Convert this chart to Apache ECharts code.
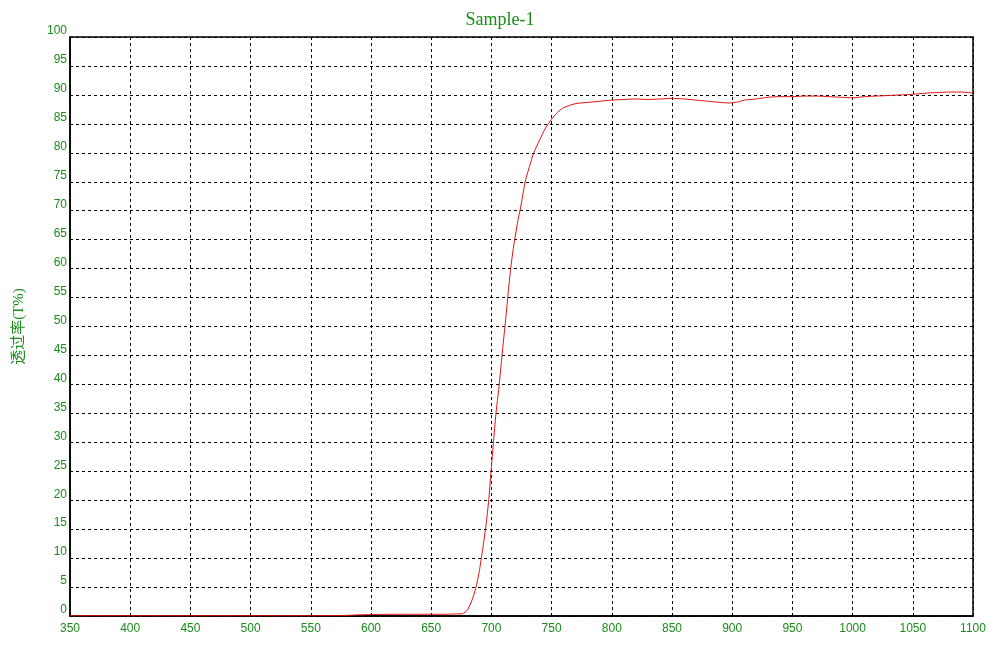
<!DOCTYPE html>
<html>
<head>
<meta charset="utf-8">
<script src="https://cdn.jsdelivr.net/npm/echarts@6/dist/echarts.min.js"></script>
<style>html,body{margin:0;padding:0;background:#fff}#c{width:1000px;height:662px}</style>
</head>
<body>
<div id="c"></div>
<script>
const titleText = "Sample-1";
const yAxisName = "透过率(T%)";
const wavelength = [350,400,450,500,550,580,590,600,620,640,660,670,676,680,684,687,690,692,694,696,698,700,702,704,706,708,710,712,714,716,718,720,722,724,726,728,730,732,735,740,745,750,755,760,770,780,790,800,810,820,830,840,850,860,870,880,890,898,905,910,920,930,940,950,960,970,980,990,1000,1010,1020,1030,1040,1050,1060,1070,1080,1090,1100];
const transmittance = [0.05,0.05,0.05,0.05,0.05,0.1,0.2,0.25,0.3,0.3,0.3,0.35,0.4,1.0,2.8,4.8,7.8,10.5,13.3,16.5,20.5,25.8,30.8,35.4,39.0,43.2,47.5,51.5,56.0,60.0,63.2,65.8,68.3,70.3,72.6,75.0,76.5,77.9,79.9,82.2,84.3,85.8,87.0,87.8,88.5,88.7,88.9,89.1,89.2,89.3,89.2,89.3,89.4,89.3,89.1,88.9,88.7,88.6,88.8,89.1,89.3,89.6,89.7,89.7,89.8,89.8,89.7,89.6,89.5,89.7,89.8,89.9,90.0,90.1,90.3,90.4,90.5,90.5,90.3];
const xMin = 350, xMax = 1100, xStep = 50;
const yMin = 0, yMax = 100, yStep = 5;

const green = "#1a8c1a";
const chart = echarts.init(document.getElementById('c'), null, {renderer:'canvas'});
const data = wavelength.map((w,i)=>[w, transmittance[i]]);
chart.setOption({
  animation:false,
  backgroundColor:'#fff',
  title:{text:titleText,left:'center',top:6,textStyle:{color:green,fontFamily:'Liberation Serif',fontSize:18,fontWeight:'normal'}},
  grid:{left:70,right:27,top:37,bottom:46,show:true,borderColor:'#000',borderWidth:1.5,backgroundColor:'transparent'},
  xAxis:{type:'value',min:xMin,max:xMax,interval:xStep,
    axisLine:{show:true,lineStyle:{color:'#000',width:1.5}},
    axisTick:{show:false},
    axisLabel:{color:green,fontFamily:'Liberation Sans',fontSize:12,margin:7,formatter:v=>String(v)},
    splitLine:{show:true,lineStyle:{color:'#000',type:[3,3],width:1}}},
  yAxis:{type:'value',min:yMin,max:yMax,interval:yStep,
    name:yAxisName,nameLocation:'middle',nameGap:43,nameRotate:90,
    nameTextStyle:{color:green,fontFamily:'Liberation Serif, Noto Sans CJK SC',fontSize:15},
    axisLine:{show:true,lineStyle:{color:'#000',width:1.5}},
    axisTick:{show:false},
    axisLabel:{color:green,fontFamily:'Liberation Sans',fontSize:12,margin:3,verticalAlign:'bottom',formatter:v=>String(v)},
    splitLine:{show:true,lineStyle:{color:'#000',type:[3,3],width:1}}},
  series:[{type:'line',data:data,showSymbol:false,smooth:0.2,lineStyle:{color:'#e01010',width:1},itemStyle:{color:'#e01010'}}]
});
</script>
</body>
</html>
